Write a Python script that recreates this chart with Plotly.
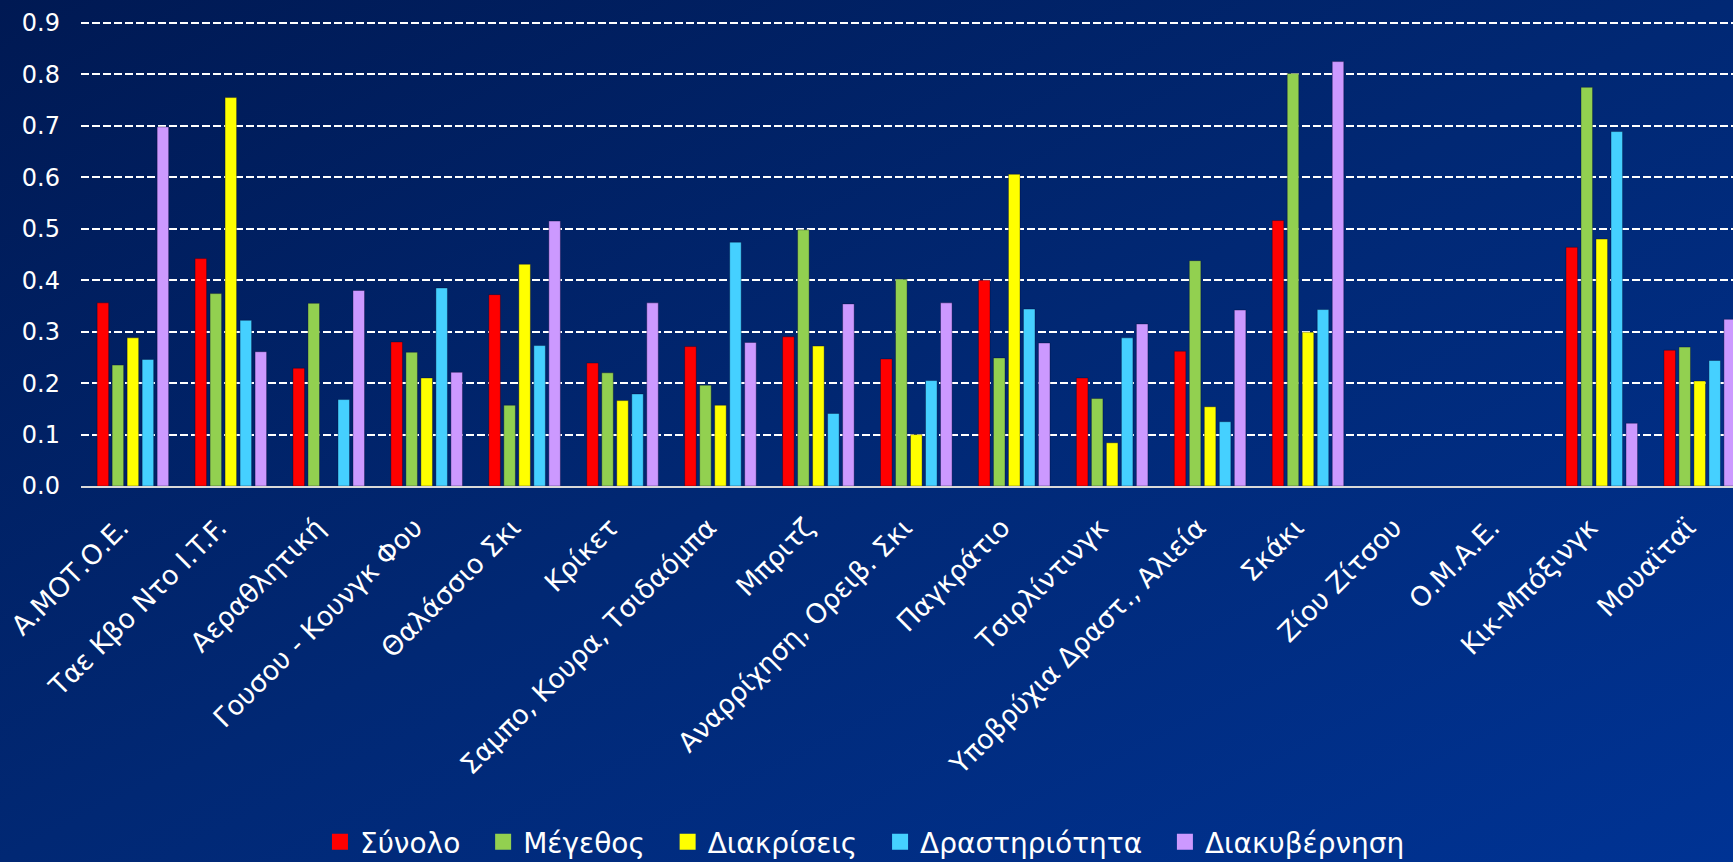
import base64
import plotly.graph_objects as go

categories = ["Α.ΜΟΤ.Ο.Ε.", "Ταε Κβο Ντο I.T.F.", "Αεραθλητική", "Γουσου - Κουνγκ Φου",
              "Θαλάσσιο Σκι", "Κρίκετ", "Σαμπο, Κουρα, Τσιδαόμπα", "Μπριτζ",
              "Αναρρίχηση, Ορειβ. Σκι", "Παγκράτιο", "Τσιρλίντινγκ",
              "Υποβρύχια Δραστ., Αλιεία", "Σκάκι", "Ζίου Ζίτσου", "Ο.Μ.Α.Ε.",
              "Κικ-Μπόξινγκ", "Μουαϊταϊ"]

synolo = [0.356, 0.442, 0.229, 0.280, 0.372, 0.239, 0.271, 0.290, 0.247, 0.400,
          0.210, 0.262, 0.516, None, None, 0.464, 0.264]
megethos = [0.235, 0.374, 0.355, 0.260, 0.157, 0.220, 0.196, 0.498, 0.402, 0.249,
            0.170, 0.438, 0.802, None, None, 0.775, 0.270]
diakriseis = [0.288, 0.755, None, 0.210, 0.431, 0.166, 0.157, 0.272, 0.100, 0.606,
              0.084, 0.154, 0.299, None, None, 0.480, 0.204]
drastiriotita = [0.246, 0.322, 0.168, 0.385, 0.273, 0.179, 0.474, 0.141, 0.205, 0.344,
                 0.288, 0.125, 0.343, None, None, 0.689, 0.244]
diakyvernisi = [0.698, 0.261, 0.380, 0.221, 0.515, 0.356, 0.279, 0.354, 0.356, 0.278,
                0.315, 0.342, 0.825, None, None, 0.122, 0.324]

series_names = ["Σύνολο", "Μέγεθος", "Διακρίσεις", "Δραστηριότητα", "Διακυβέρνηση"]
series_values = [synolo, megethos, diakriseis, drastiriotita, diakyvernisi]
series_colors = ["#FF0000", "#92D050", "#FFFF00", "#45D0FF", "#CC99FF"]
y_ticks = [0.0, 0.1, 0.2, 0.3, 0.4, 0.5, 0.6, 0.7, 0.8, 0.9]
y_tick_labels = ["0.0", "0.1", "0.2", "0.3", "0.4", "0.5", "0.6", "0.7", "0.8", "0.9"]

W, H = 1733, 862
ML, MR, MT, MB = 81, 0, 21, 376
PW, PH = W - ML - MR, H - MT - MB
YMAX = 0.9 * (PH / (PH - 2))

FONT = "DejaVu Sans"

fig = go.Figure()
for name, vals, col in zip(series_names, series_values, series_colors):
    fig.add_trace(go.Bar(
        x=categories, y=vals, name=name, showlegend=False,
        marker=dict(color=col, line=dict(color="rgba(0,0,40,0.35)", width=1)),
    ))
for name, col in zip(series_names, series_colors):
    fig.add_trace(go.Scatter(
        x=[None], y=[None], mode="markers", name=name + "\u00a0\u00a0",
        marker=dict(symbol="square", size=16, color=col), showlegend=True,
    ))

svg = (f"<svg xmlns='http://www.w3.org/2000/svg' width='{W}' height='{H}' "
       f"viewBox='0 0 {W} {H}' preserveAspectRatio='none'>"
       "<defs><linearGradient id='g' x1='0' y1='0' x2='1' y2='1'>"
       "<stop offset='0' stop-color='#001953'/>"
       "<stop offset='0.5' stop-color='#012874'/>"
       "<stop offset='1' stop-color='#003394'/>"
       "</linearGradient></defs>"
       f"<rect x='0' y='0' width='{W}' height='{H}' fill='url(#g)'/></svg>")
src = "data:image/svg+xml;base64," + base64.b64encode(svg.encode()).decode()

fig.update_layout(
    width=W, height=H,
    margin=dict(l=ML, r=MR, t=MT, b=MB, pad=0),
    paper_bgcolor="#012572",
    plot_bgcolor="rgba(0,0,0,0)",
    barmode="group", bargap=0.234, bargroupgap=0.23,
    font=dict(family=FONT, color="white", size=24),
    images=[dict(source=src, xref="paper", yref="paper",
                 x=-ML / PW, y=1 + MT / PH, sizex=W / PW, sizey=H / PH,
                 xanchor="left", yanchor="top", sizing="stretch", layer="below")],
    legend=dict(orientation="h", x=0.48, xanchor="center",
                yref="container", y=0.023, yanchor="middle",
                font=dict(family=FONT, size=28, color="white"),
                bgcolor="rgba(0,0,0,0)", itemclick=False),
    xaxis=dict(range=[-0.53, 16.34], tickangle=-45, showgrid=False,
               tickfont=dict(family=FONT, size=27, color="white"),
               showline=True, linecolor="#d9d9d9", linewidth=2, ticks="",
               ticklabelstandoff=13, ticklabelshift=-12),
    yaxis=dict(range=[0, YMAX], tickvals=y_ticks, ticktext=y_tick_labels,
               showgrid=True, gridcolor="white", gridwidth=2, griddash="8px,3px",
               zeroline=False, ticks="", ticklabelstandoff=20,
               tickfont=dict(family=FONT, size=24, color="white")),
)

fig.write_html("out.html", config={"displayModeBar": False},
               post_script="document.body.style.margin='0';document.body.style.padding='0';"
                           "document.documentElement.style.overflow='hidden';")
